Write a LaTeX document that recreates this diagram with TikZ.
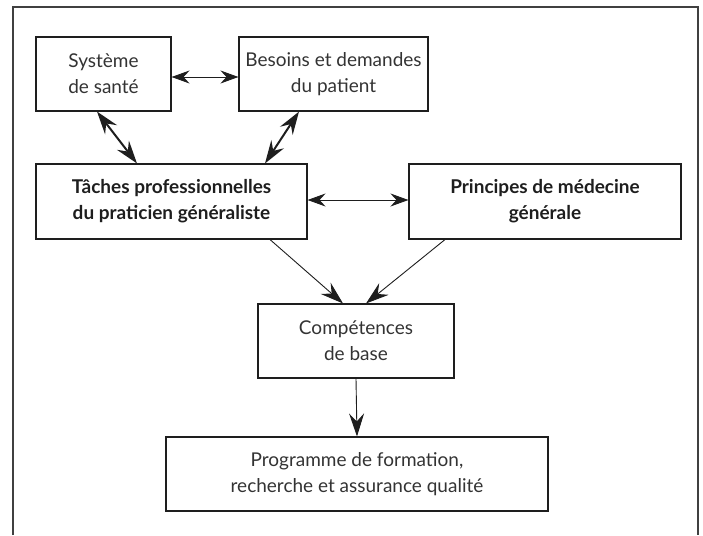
\documentclass[tikz,border=0pt]{standalone}
\usepackage{fontspec}
\setmainfont{Lato}
\usetikzlibrary{arrows.meta}
\definecolor{ink}{HTML}{1E1E1E}
\definecolor{txt}{HTML}{333333}
\tikzset{
  tipthin/.tip={Stealth[length=18pt,width=13pt,inset=6pt]},
  tipbig/.tip={Stealth[length=23pt,width=15pt,inset=8pt]}
}
\begin{document}
\begin{tikzpicture}[x=1pt,y=-1pt,
  box/.style={draw=ink, line width=1.1pt, align=center, inner sep=0pt,
    text=txt, font=\fontsize{19}{26}\selectfont},
  boldbox/.style={box, text=ink, font=\fontsize{19}{26}\selectfont\bfseries},
  link/.style={draw=ink, line width=0.9pt, tipthin-tipthin},
  thicklink/.style={draw=ink, line width=2pt, tipbig-tipbig},
  flow/.style={draw=ink, line width=0.9pt, -tipbig}]
\useasboundingbox (0,0) rectangle (703,535);
% open frame
\draw[draw=ink!85, line width=1.4pt] (13,535) -- (13,7) -- (698,7) -- (698,535);

\node[box, minimum width=135pt, minimum height=74pt] (sys) at (103.5,74) {Système\\de santé};
\node[box, minimum width=189pt, minimum height=74pt] (bes) at (333.5,74) {Besoins et demandes\\du patient};
\node[boldbox, minimum width=271pt, minimum height=75pt] (tp) at (171.5,201.5) {Tâches professionnelles\\du praticien généraliste};
\node[boldbox, minimum width=272pt, minimum height=75pt] (pr) at (545,201.5) {Principes de médecine\\générale};
\node[box, minimum width=196pt, minimum height=74pt] (comp) at (356,341) {Compétences\\de base};
\node[box, minimum width=382pt, minimum height=74pt] (prog) at (357,474) {Programme de formation,\\recherche et assurance qualité};

\draw[link] ([yshift=-3pt]sys.east) -- ([yshift=-3pt]bes.west);
\draw[thicklink] ([xshift=-6.5pt]sys.south) -- ([xshift=-34.5pt]tp.north);
\draw[thicklink] ([xshift=-34.5pt]bes.south) -- ([xshift=93.5pt]tp.north);
\draw[link] ([yshift=1.5pt]tp.east) -- ([yshift=1.5pt]pr.west);
\draw[flow] ([xshift=98.5pt]tp.south) -- ([xshift=-13pt]comp.north);
\draw[flow] ([xshift=-100pt]pr.south) -- ([xshift=10pt]comp.north);
\draw[flow] (comp.south) -- (prog.north);
\end{tikzpicture}
\end{document}
